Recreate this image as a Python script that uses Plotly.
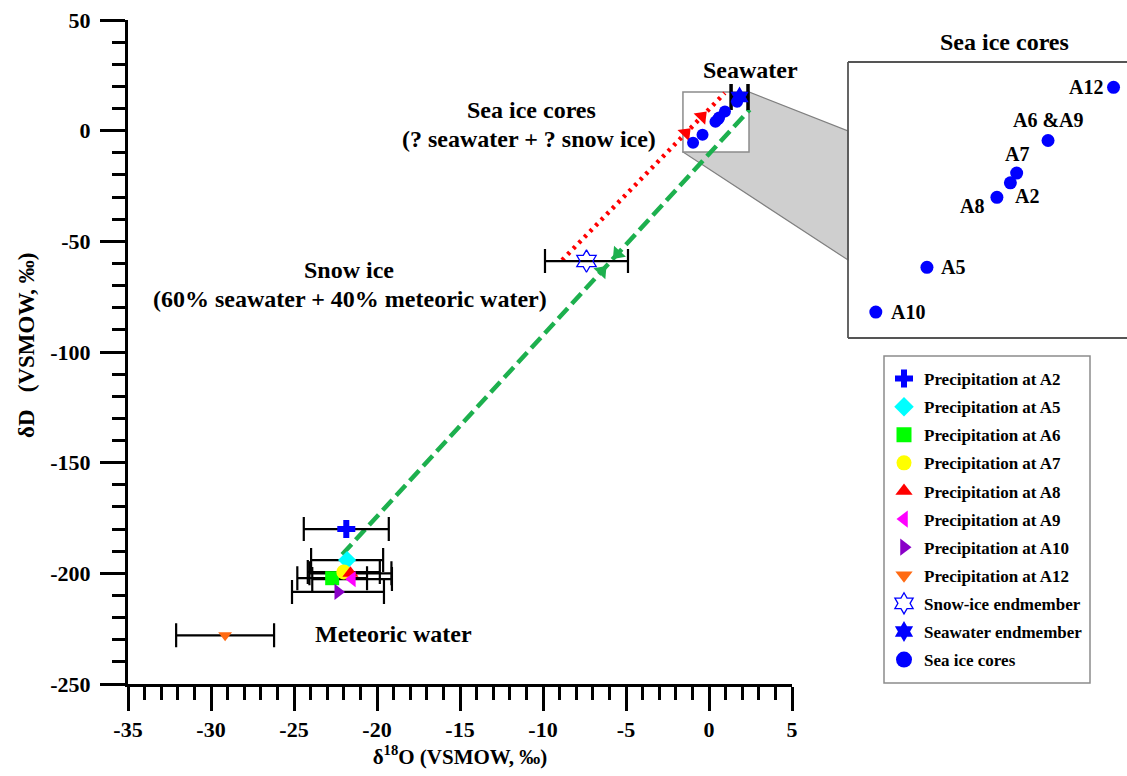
import math
import plotly.graph_objects as go

FONT = "Liberation Serif"

# ---------------- data ----------------
precip_names = ["Precipitation at A2", "Precipitation at A5", "Precipitation at A6",
                "Precipitation at A7", "Precipitation at A8", "Precipitation at A9",
                "Precipitation at A10", "Precipitation at A12"]
precip_d18o = [-21.85, -21.8, -22.7, -22.0, -21.6, -21.5, -22.35, -29.15]
precip_dD = [-180.0, -194.0, -202.2, -199.4, -200.0, -202.6, -208.4, -228.0]
precip_d18o_err = [2.56, 2.17, 2.1, 2.17, 2.47, 2.4, 2.77, 2.95]

snow_d18o = [-7.38]
snow_dD = [-58.9]
snow_err = [2.5]

sw_d18o = [1.84]
sw_dD = [15.2]
sw_err = [0.51]

core_labels = ["A10", "A5", "A8", "A2", "A7", "A6 &A9", "A12"]
core_d18o = [-0.96, -0.39, 0.39, 0.54, 0.61, 0.96, 1.69]
core_dD = [-5.5, -1.8, 4.0, 5.2, 6.0, 8.7, 13.1]

green_line_x = [-22.1, 2.45]
green_line_y = [-191.5, 9.5]
red_line_x = [-8.85, 0.95]
red_line_y = [-58.5, 17.0]
# arrowheads: fraction along line (from first point), pointing to end (+1) or start (-1)
green_arrows_t = [0.676, 0.637]
green_arrows_dir = [-1, 1]
red_arrows_t = [0.859, 0.76]
red_arrows_dir = [1, 1]

zoom_box_x = [-1.57, 2.41]
zoom_box_y = [-9.6, 17.5]

x_range = [-35, 5]
y_range = [-250, 50]
x_ticks = [-35, -30, -25, -20, -15, -10, -5, 0, 5]
y_ticks = [-250, -200, -150, -100, -50, 0, 50]
inset_x_range = [-1.27, 1.84]
inset_y_range = [-7.65, 15.2]

# ---------------- styles ----------------
precip_symbols = ["cross", "diamond", "square", "circle", "triangle-up",
                  "triangle-left", "triangle-right", "triangle-down"]
precip_colors = ["#0000FF", "#00FFFF", "#00FF00", "#FFFF00", "#FF0000",
                 "#FF00FF", "#8A00C8", "#FF6A13"]
precip_sizes = [15, 14, 14, 15, 14, 14, 14, 12]

W, H = 1127, 776
ML, MR, MT, MB = 128, 0, 20, 92
PW = W - ML - MR
PH = H - MT - MB
MAIN_W = 664  # px width of main plot
main_dom = [0, MAIN_W / PW]
inset_dom_x = [(848 - ML) / PW, 1.0]
inset_dom_y = [(H - MB - 338) / PH, (H - MB - 62) / PH]


def px_x(p):
    return (p - ML) / PW


def px_y(p):
    return (H - MB - p) / PH


pxx = MAIN_W / (x_range[1] - x_range[0])
pxy = PH / (y_range[1] - y_range[0])


def to_paper(x, y):
    px = (x - x_range[0]) / (x_range[1] - x_range[0]) * main_dom[1]
    py = (y - y_range[0]) / (y_range[1] - y_range[0])
    return px, py


def arrow_points(lx, ly, ts, dirs):
    xs, ys, angs = [], [], []
    for t, d in zip(ts, dirs):
        xs.append(lx[0] + t * (lx[1] - lx[0]))
        ys.append(ly[0] + t * (ly[1] - ly[0]))
        dx = (lx[1] - lx[0]) * pxx * d
        dy = -(ly[1] - ly[0]) * pxy * d
        angs.append(math.degrees(math.atan2(dx, -dy)))
    return xs, ys, angs


fig = go.Figure()

# mixing lines
fig.add_trace(go.Scatter(x=green_line_x, y=green_line_y, mode="lines",
                         line=dict(color="#1DB04E", width=4.5, dash="14px,6px"),
                         showlegend=False, hoverinfo="skip"))
fig.add_trace(go.Scatter(x=red_line_x, y=red_line_y, mode="lines",
                         line=dict(color="#FF0000", width=4.5, dash="3px,5px"),
                         showlegend=False, hoverinfo="skip"))

gx, gy, ga = arrow_points(green_line_x, green_line_y, green_arrows_t, green_arrows_dir)
fig.add_trace(go.Scatter(x=gx, y=gy, mode="markers",
                         marker=dict(symbol="triangle-up", size=14, color="#1DB04E", angle=ga),
                         showlegend=False, hoverinfo="skip"))
rx, ry, ra = arrow_points(red_line_x, red_line_y, red_arrows_t, red_arrows_dir)
fig.add_trace(go.Scatter(x=rx, y=ry, mode="markers",
                         marker=dict(symbol="triangle-up", size=14, color="#FF0000", angle=ra),
                         showlegend=False, hoverinfo="skip"))

# error bars (drawn beneath the markers)
fig.add_trace(go.Scatter(x=precip_d18o + snow_d18o, y=precip_dD + snow_dD, mode="markers",
                         marker=dict(size=1, color="rgba(0,0,0,0)"),
                         error_x=dict(type="data", array=precip_d18o_err + snow_err,
                                      color="black", thickness=2.2, width=12),
                         showlegend=False, hoverinfo="skip"))
fig.add_trace(go.Scatter(x=sw_d18o, y=sw_dD, mode="markers",
                         marker=dict(size=1, color="rgba(0,0,0,0)"),
                         error_x=dict(type="data", array=sw_err,
                                      color="black", thickness=3.5, width=13),
                         showlegend=False, hoverinfo="skip"))

# data markers (plot) and legend-only proxies with legend-sized symbols
for i, (name, x, y, sym, col, sz) in enumerate(zip(precip_names, precip_d18o, precip_dD,
                                                   precip_symbols, precip_colors, precip_sizes)):
    fig.add_trace(go.Scatter(x=[x], y=[y], mode="markers", name=name,
                             marker=dict(symbol=sym, size=sz, color=col, line=dict(width=0)),
                             showlegend=False))
    fig.add_trace(go.Scatter(x=[None], y=[None], mode="markers", name=name,
                             marker=dict(symbol=sym, size=15, color=col, line=dict(width=0)),
                             legendrank=i + 1, legendgroup=name))

fig.add_trace(go.Scatter(x=snow_d18o, y=snow_dD, mode="markers", name="Snow-ice endmember",
                         marker=dict(symbol="hexagram-open", size=17, color="#0000FF",
                                     line=dict(width=1.3, color="#0000FF")),
                         legendrank=9, legendgroup="snow"))
fig.add_trace(go.Scatter(x=core_d18o, y=core_dD, mode="markers", name="Sea ice cores",
                         marker=dict(symbol="circle", size=12, color="#0000FF"),
                         showlegend=False))
fig.add_trace(go.Scatter(x=[None], y=[None], mode="markers", name="Sea ice cores",
                         marker=dict(symbol="circle", size=16, color="#0000FF"),
                         legendrank=11, legendgroup="cores"))
fig.add_trace(go.Scatter(x=sw_d18o, y=sw_dD, mode="markers", name="Seawater endmember",
                         marker=dict(symbol="hexagram", size=16, color="#0000FF"),
                         legendrank=10, legendgroup="sw"))

# inset
fig.add_trace(go.Scatter(x=core_d18o, y=core_dD, mode="markers", xaxis="x2", yaxis="y2",
                         marker=dict(symbol="circle", size=13, color="#0000FF"),
                         showlegend=False, hoverinfo="skip"))

label_shift = {
    "A10": (13, 0, "left", "middle"),
    "A5": (12, 0, "left", "middle"),
    "A8": (-11, -9, "right", "middle"),
    "A2": (3, -13, "left", "middle"),
    "A7": (0, 19, "center", "middle"),
    "A6 &A9": (0, 21, "center", "middle"),
    "A12": (-9, 0, "right", "middle"),
}
for lab, x, y in zip(core_labels, core_d18o, core_dD):
    dx, dy, xa, ya = label_shift[lab]
    fig.add_annotation(x=x, y=y, xref="x2", yref="y2", text=lab, showarrow=False,
                       xshift=dx, yshift=dy, xanchor=xa, yanchor=ya,
                       font=dict(family=FONT, size=20, color="black", weight="bold"))

# text labels in main plot
txt_font = dict(family=FONT, size=24, color="black", weight="bold")
main_texts = [
    ("Seawater", 2.47, 27.4),
    ("Sea ice cores", -10.72, 9.4),
    ("(? seawater + ? snow ice)", -10.84, -3.7),
    ("Snow ice", -21.7, -62.9),
    ("(60% seawater + 40% meteoric water)", -21.6, -76.0),
    ("Meteoric water", -19.0, -227.5),
]
for t, x, y in main_texts:
    fig.add_annotation(x=x, y=y, xref="x", yref="y", text=t, showarrow=False,
                       xanchor="center", yanchor="middle", font=txt_font)

fig.add_annotation(x=px_x(1004), y=px_y(42), xref="paper", yref="paper",
                   text="Sea ice cores", showarrow=False, xanchor="center", yanchor="middle",
                   font=txt_font)

# y axis title as rotated annotation
fig.add_annotation(x=px_x(26), y=px_y(345), xref="paper", yref="paper",
                   text="δD\u00a0\u00a0\u00a0(VSMOW, ‰)", textangle=-90, showarrow=False,
                   xanchor="center", yanchor="middle",
                   font=dict(family=FONT, size=23, color="black", weight="bold"))

# zoom connector polygon (paper coords)
bl = to_paper(zoom_box_x[0], zoom_box_y[0])
tr = to_paper(zoom_box_x[1], zoom_box_y[1])
edge_x = inset_dom_x[0]
path = (f"M {bl[0]},{bl[1]} L {tr[0]},{tr[1]} L {edge_x},{px_y(131)} "
        f"L {edge_x},{px_y(260)} Z")
shapes = [
    dict(type="path", path=path, xref="paper", yref="paper", fillcolor="#CFCFCF",
         line=dict(color="#7F7F7F", width=1.2), layer="below"),
    dict(type="rect", xref="x", yref="y", x0=zoom_box_x[0], x1=zoom_box_x[1],
         y0=zoom_box_y[0], y1=zoom_box_y[1], fillcolor="white",
         line=dict(color="#8C8C8C", width=1.5), layer="below"),
    # inset frame (left, top, bottom)
    dict(type="line", xref="paper", yref="paper", x0=inset_dom_x[0], x1=inset_dom_x[0],
         y0=inset_dom_y[0], y1=inset_dom_y[1], line=dict(color="#555555", width=1.8)),
    dict(type="line", xref="paper", yref="paper", x0=inset_dom_x[0], x1=1.02,
         y0=inset_dom_y[1], y1=inset_dom_y[1], line=dict(color="#555555", width=1.8)),
    dict(type="line", xref="paper", yref="paper", x0=inset_dom_x[0], x1=1.02,
         y0=inset_dom_y[0], y1=inset_dom_y[0], line=dict(color="#555555", width=1.8)),
    # legend frame
    dict(type="rect", xref="paper", yref="paper", x0=px_x(884), x1=px_x(1090),
         y0=px_y(683), y1=px_y(356), fillcolor="white",
         line=dict(color="#8C8C8C", width=1.5), layer="below"),
]

tickfont = dict(family=FONT, size=22, color="black", weight="bold")
titlefont = dict(family=FONT, size=21, color="black", weight="bold")

fig.update_layout(
    width=W, height=H,
    margin=dict(l=ML, r=MR, t=MT, b=MB, pad=0, autoexpand=False),
    paper_bgcolor="white", plot_bgcolor="rgba(0,0,0,0)",
    shapes=shapes,
    xaxis=dict(domain=main_dom, range=x_range, showgrid=False, zeroline=False,
               showline=True, linecolor="black", linewidth=3, automargin=False,
               ticks="outside", ticklen=24, tickwidth=2.5, tickcolor="black",
               tickmode="array", tickvals=x_ticks, ticktext=[str(v) for v in x_ticks],
               tickfont=tickfont,
               minor=dict(ticks="outside", ticklen=13, tickwidth=2.5, tickcolor="black",
                          tickmode="linear", tick0=-35, dtick=1),
               title=dict(text="δ<sup>18</sup>O (VSMOW, ‰)", font=titlefont, standoff=7)),
    yaxis=dict(domain=[0, 1], range=y_range, showgrid=False, zeroline=False,
               showline=True, linecolor="black", linewidth=3, automargin=False,
               ticks="outside", ticklen=25, tickwidth=2.5, tickcolor="black",
               tickmode="array", tickvals=y_ticks, ticktext=[str(v) for v in y_ticks],
               tickfont=tickfont, ticklabelstandoff=5,
               minor=dict(ticks="outside", ticklen=13, tickwidth=2.5, tickcolor="black",
                          tickmode="linear", tick0=-250, dtick=10)),
    xaxis2=dict(domain=inset_dom_x, range=inset_x_range, visible=False, anchor="y2"),
    yaxis2=dict(domain=inset_dom_y, range=inset_y_range, visible=False, anchor="x2"),
    legend=dict(x=px_x(884), y=px_y(361), xanchor="left", yanchor="top",
                borderwidth=0, bgcolor="rgba(0,0,0,0)",
                font=dict(family=FONT, size=17, color="black", weight="bold"),
                traceorder="grouped", tracegroupgap=3, itemwidth=30),
    showlegend=True,
)

fig.write_html("out.html", config={"displayModeBar": False},
               post_script="document.body.style.margin='0';")
